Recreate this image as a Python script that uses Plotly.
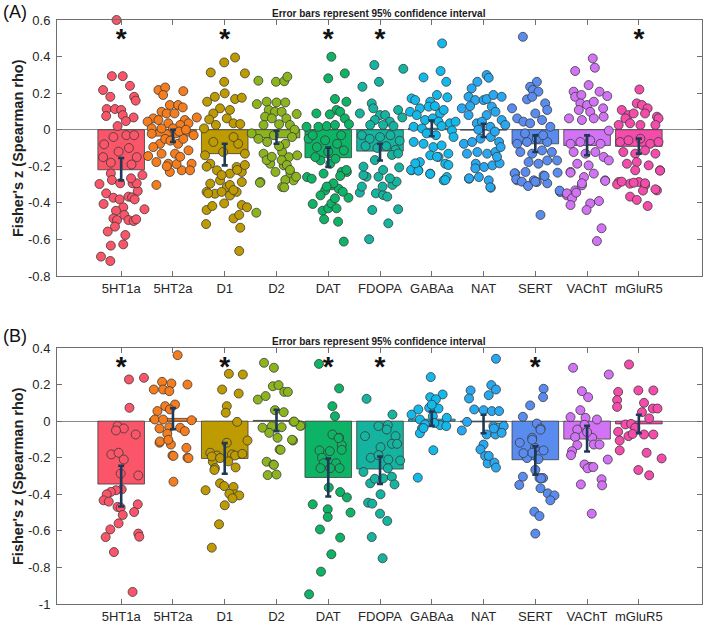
import plotly.graph_objects as go

categories = ["5HT1a", "5HT2a", "D1", "D2", "DAT", "FDOPA", "GABAa", "NAT", "SERT", "VAChT", "mGluR5"]
colors = ["#FA5569", "#F57D1E", "#BE9B00", "#8CB41E", "#0DB466", "#14B4A0",
          "#14B9EB", "#28A8F0", "#5A8CF0", "#D273F5", "#F54BAA"]

# Panel A: bar means and 95% CI bounds
a_means = [-0.219, -0.035, -0.131, -0.044, -0.153, -0.117, 0.008, -0.002, -0.077, -0.086, -0.091]
a_ci_low = [-0.277, -0.067, -0.195, -0.077, -0.204, -0.168, -0.036, -0.04, -0.122, -0.14, -0.131]
a_ci_high = [-0.155, 0.0, -0.077, -0.007, -0.098, -0.077, 0.05, 0.033, -0.031, -0.031, -0.049]
a_sig = ["5HT1a", "D1", "DAT", "FDOPA", "mGluR5"]

# Panel B: bar means and 95% CI bounds
b_means = [-0.344, 0.015, -0.204, 0.004, -0.308, -0.262, 0.011, -0.004, -0.211, -0.098, -0.015]
b_ci_low = [-0.467, -0.044, -0.288, -0.055, -0.412, -0.343, -0.026, -0.066, -0.293, -0.166, -0.066]
b_ci_high = [-0.244, 0.071, -0.12, 0.062, -0.204, -0.193, 0.053, 0.035, -0.138, -0.026, 0.035]
b_sig = ["5HT1a", "D1", "DAT", "FDOPA", "SERT"]

a_ytickvals = [-0.8, -0.6, -0.4, -0.2, 0, 0.2, 0.4, 0.6]
a_yticktext = ["-0.8", "-0.6", "-0.4", "-0.2", "0", "0.2", "0.4", "0.6"]
b_ytickvals = [-1, -0.8, -0.6, -0.4, -0.2, 0, 0.2, 0.4]
b_yticktext = ["-1", "-0.8", "-0.6", "-0.4", "-0.2", "0", "0.2", "0.4"]

# Individual points (jitter offset, Fisher's z) per category, panel A
a_5ht1a = [(-0.09, 0.6), (-0.18, 0.293), (0.03, 0.293), (-0.35, 0.217), (0.17, 0.24), (-0.21, 0.18), (0.25, 0.18),
           (0.28, 0.159), (-0.28, 0.113), (-0.12, 0.113), (0.0, 0.108), (-0.29, 0.075), (0.03, 0.08), (0.24, 0.067),
           (-0.07, 0.02), (0.09, 0.047), (-0.15, -0.04), (0.1, -0.03), (0.25, -0.03), (-0.33, -0.08), (-0.05, -0.12),
           (0.3, -0.15), (-0.35, -0.15), (0.15, -0.1), (-0.2, -0.18), (0.2, -0.19), (-0.42, -0.297), (-0.2, -0.239),
           (-0.18, -0.275), (-0.34, -0.406), (-0.29, -0.348), (-0.15, -0.372), (-0.03, -0.381), (0.04, -0.424),
           (-0.1, -0.443), (-0.15, -0.485), (-0.08, -0.494), (0.06, -0.466), (0.14, -0.494), (0.24, -0.499),
           (0.29, -0.49), (0.14, -0.366), (0.21, -0.37), (0.32, -0.335), (0.45, -0.435), (0.22, -0.293), (0.3, -0.293),
           (0.41, -0.248), (-0.02, -0.293), (-0.12, -0.53), (-0.26, -0.557), (-0.2, -0.634), (-0.39, -0.694),
           (-0.21, -0.718), (0.04, -0.627), (0.08, -0.576), (0.26, -0.381), (0.19, -0.266)]
a_5ht2a = [(-0.28, 0.217), (-0.15, 0.231), (-0.19, 0.19), (0.2, 0.211), (-0.06, 0.135), (0.1, 0.135), (0.19, 0.122),
           (-0.22, 0.098), (-0.12, 0.089), (0.03, 0.089), (-0.38, 0.062), (-0.28, 0.053), (0.23, 0.053), (0.3, 0.035),
           (0.46, 0.067), (-0.49, 0.044), (-0.09, 0.035), (0.14, 0.026), (-0.41, 0.007), (-0.22, 0.007), (0.0, 0.007),
           (-0.48, -0.144), (-0.25, -0.077), (-0.15, -0.05), (0.1, -0.077), (0.2, -0.05), (0.3, -0.113),
           (0.36, -0.186), (-0.09, -0.186), (-0.22, -0.131), (0.04, -0.131), (-0.32, -0.177), (0.17, -0.222),
           (0.33, -0.222), (-0.06, -0.231), (-0.41, -0.022), (-0.38, -0.095), (0.05, -0.02), (-0.05, -0.06),
           (0.12, -0.01), (0.25, 0.0), (0.4, -0.03), (-0.32, -0.302), (0.07, -0.188), (0.14, -0.148), (-0.12, -0.2)]
a_d1 = [(0.2, 0.395), (-0.01, 0.368), (-0.27, 0.313), (0.39, 0.308), (-0.01, 0.262), (0.0, 0.199), (-0.19, 0.18),
        (-0.34, 0.153), (0.2, 0.168), (0.33, 0.175), (-0.09, 0.117), (0.1, 0.108), (-0.22, 0.089), (0.04, 0.062),
        (-0.3, 0.056), (0.17, 0.035), (0.3, 0.031), (-0.17, 0.026), (-0.4, 0.007), (-0.38, -0.14), (-0.28, -0.186),
        (-0.15, -0.222), (0.1, -0.24), (0.23, -0.204), (0.33, -0.231), (0.39, -0.131), (-0.03, -0.122),
        (0.26, -0.077), (-0.22, -0.067), (0.17, -0.04), (-0.09, -0.277), (0.04, -0.313), (-0.35, -0.34),
        (-0.19, -0.35), (-0.06, -0.34), (0.1, -0.36), (0.23, -0.34), (-0.28, -0.295), (0.33, -0.286),
        (-0.35, -0.439), (-0.36, -0.516), (-0.24, -0.417), (-0.01, -0.403), (0.17, -0.485), (0.28, -0.466),
        (0.3, -0.536), (0.28, -0.663), (0.33, -0.412), (0.43, -0.424), (-0.32, -0.348), (0.1, -0.302),
        (0.17, -0.33), (-0.35, -0.202), (0.24, -0.22), (0.39, -0.193), (-0.06, -0.248)]
a_d2 = [(-0.35, 0.268), (-0.01, 0.262), (0.15, 0.265), (0.21, 0.29), (-0.19, 0.153), (0.0, 0.149), (0.17, 0.149),
        (-0.38, 0.14), (-0.15, 0.108), (-0.03, 0.098), (0.1, 0.098), (0.39, 0.086), (-0.22, 0.071), (-0.09, 0.062),
        (0.19, 0.062), (-0.25, 0.026), (0.26, 0.026), (-0.48, -0.02), (0.05, 0.03), (0.35, 0.0),
        (-0.25, -0.131), (-0.12, -0.186), (0.11, -0.122), (0.24, -0.15), (0.4, -0.14), (0.14, -0.195),
        (-0.02, -0.231), (0.27, -0.24), (-0.18, -0.067), (0.17, -0.077), (-0.31, -0.286), (0.11, -0.313),
        (0.33, -0.277), (-0.05, -0.03), (0.3, -0.04), (-0.35, -0.05), (0.05, -0.09), (-0.32, -0.29),
        (-0.19, -0.166), (-0.09, -0.148), (0.1, -0.166), (0.2, -0.193), (0.26, -0.22), (0.38, -0.257),
        (0.17, -0.275), (0.15, -0.315), (-0.39, -0.454)]
a_dat = [(0.06, 0.399), (0.0, 0.281), (0.32, 0.308), (0.13, 0.168), (0.35, 0.153), (0.16, 0.108), (0.23, 0.098),
         (0.03, 0.084), (0.32, 0.062), (-0.23, 0.089), (-0.42, 0.016), (-0.19, 0.016), (-0.03, 0.02), (0.13, 0.026),
         (0.4, 0.03), (-0.41, -0.259), (-0.32, -0.268), (-0.09, -0.24), (0.04, -0.186), (0.26, -0.231),
         (0.36, -0.231), (-0.15, -0.168), (0.14, -0.159), (0.3, -0.113), (-0.22, -0.095), (-0.06, -0.058),
         (0.17, -0.077), (-0.38, -0.049), (0.07, -0.304), (0.2, -0.323), (-0.06, -0.332), (-0.15, -0.359),
         (-0.3, -0.03), (0.25, -0.03), (0.0, -0.12), (-0.25, -0.15), (-0.3, -0.406), (-0.11, -0.443),
         (-0.08, -0.49), (0.0, -0.43), (0.06, -0.403), (0.13, -0.375), (0.16, -0.43), (0.19, -0.503),
         (0.3, -0.612), (0.39, -0.372), (0.28, -0.339), (0.35, -0.22), (0.1, -0.293), (-0.03, -0.311), (0.23, -0.253)]
a_fdopa = [(-0.11, 0.354), (0.45, 0.333), (-0.02, 0.262), (-0.34, 0.235), (-0.16, 0.144), (-0.13, 0.117),
           (0.35, 0.108), (0.43, 0.067), (-0.39, 0.089), (0.0, 0.08), (0.1, 0.08), (-0.1, 0.053), (0.19, 0.044),
           (-0.19, 0.026), (0.06, 0.026), (0.26, 0.02), (-0.35, -0.03), (-0.2, -0.05), (0.0, -0.04), (0.2, -0.03),
           (0.38, -0.06), (-0.28, -0.09), (-0.05, -0.1), (0.12, -0.09), (0.3, -0.11), (-0.21, -0.599),
           (0.16, -0.512), (-0.15, -0.439), (0.35, -0.435), (-0.08, -0.348), (0.06, -0.357), (0.14, -0.366),
           (-0.39, -0.344), (-0.35, -0.311), (0.05, -0.311), (0.24, -0.302), (0.32, -0.284), (0.19, -0.266),
           (-0.03, -0.257), (-0.26, -0.257), (-0.32, -0.248), (0.06, -0.22), (0.37, -0.206), (-0.32, -0.202),
           (-0.1, -0.166), (0.23, -0.138), (0.35, -0.13)]
a_gabaa = [(0.2, 0.472), (-0.16, 0.286), (0.17, 0.321), (0.28, 0.262), (-0.39, 0.171), (-0.32, 0.162), (0.1, 0.19),
           (-0.03, 0.153), (0.3, 0.177), (-0.23, 0.117), (-0.06, 0.126), (0.06, 0.129), (0.16, 0.089), (0.23, 0.108),
           (-0.42, 0.098), (-0.29, 0.08), (-0.13, 0.053), (0.02, 0.062), (0.13, 0.044), (0.35, 0.035),
           (0.46, 0.044), (-0.35, 0.016), (-0.19, 0.007), (0.19, 0.02), (-0.35, -0.067), (-0.16, -0.077),
           (0.03, -0.095), (0.19, -0.086), (0.32, -0.131), (-0.03, -0.14), (0.13, -0.149), (-0.23, -0.177),
           (0.26, -0.186), (-0.39, -0.222), (-0.26, -0.222), (-0.03, -0.24), (0.23, -0.277), (0.29, -0.259),
           (0.39, -0.004), (0.42, -0.04), (-0.4, -0.22), (-0.26, -0.224), (-0.03, -0.242), (0.26, -0.275),
           (0.32, -0.193), (0.1, -0.148), (-0.32, -0.184), (0.08, -0.03), (-0.1, -0.02)]
a_nat = [(0.06, 0.299), (0.1, 0.284), (-0.12, 0.262), (-0.23, 0.226), (-0.29, 0.18), (-0.16, 0.162), (0.0, 0.162),
         (0.06, 0.168), (0.19, 0.19), (0.35, 0.18), (-0.42, 0.117), (-0.26, 0.129), (0.16, 0.126), (0.23, 0.098),
         (-0.29, 0.08), (0.06, 0.08), (0.35, 0.053), (-0.13, 0.035), (-0.03, 0.044), (0.13, 0.016), (0.42, 0.026),
         (-0.38, -0.077), (-0.22, -0.067), (-0.06, -0.049), (0.14, -0.04), (0.3, -0.067), (-0.32, -0.131),
         (-0.12, -0.122), (0.07, -0.131), (0.23, -0.122), (-0.15, -0.186), (0.01, -0.204), (0.17, -0.195),
         (-0.28, -0.268), (-0.09, -0.259), (0.1, -0.277), (0.14, -0.317), (0.33, -0.095), (-0.28, -0.266),
         (-0.16, -0.211), (0.13, -0.315), (0.31, -0.184), (0.26, -0.148), (-0.1, 0.0), (0.22, -0.01)]
a_sert = [(-0.24, 0.508), (0.03, 0.262), (-0.1, 0.235), (-0.05, 0.217), (0.06, 0.208), (-0.16, 0.166), (0.19, 0.144),
          (-0.06, 0.18), (0.23, 0.108), (-0.45, 0.117), (0.0, 0.089), (-0.35, 0.062), (-0.23, 0.044), (-0.1, 0.035),
          (0.13, 0.053), (0.29, 0.016), (-0.35, -0.077), (-0.16, -0.067), (0.03, -0.049), (0.23, -0.067),
          (-0.29, -0.122), (-0.06, -0.131), (0.13, -0.113), (0.32, -0.122), (-0.13, -0.177), (0.06, -0.186),
          (0.23, -0.168), (0.42, -0.168), (-0.39, -0.24), (-0.19, -0.231), (-0.03, -0.277), (0.16, -0.25),
          (0.03, -0.286), (-0.35, -0.277), (0.48, -0.341), (-0.4, -0.238), (-0.37, -0.271), (-0.26, -0.284),
          (-0.14, -0.308), (0.0, -0.284), (0.23, -0.293), (0.18, -0.253), (0.43, -0.235), (0.47, -0.333),
          (0.1, -0.466), (-0.2, -0.02), (0.15, -0.03)]
a_vacht = [(0.11, 0.39), (0.15, 0.339), (-0.23, 0.321), (0.03, 0.244), (-0.26, 0.208), (-0.23, 0.18), (-0.11, 0.19),
           (0.24, 0.208), (0.39, 0.184), (-0.13, 0.144), (0.0, 0.135), (0.13, 0.153), (0.31, 0.117), (-0.16, 0.108),
           (0.06, 0.098), (-0.35, 0.062), (-0.1, 0.053), (0.13, 0.062), (0.32, 0.071), (0.42, -0.005),
           (-0.32, -0.077), (-0.13, -0.067), (0.06, -0.058), (0.26, -0.077), (-0.26, -0.122), (-0.03, -0.131),
           (0.16, -0.122), (0.32, -0.149), (-0.19, -0.186), (0.03, -0.195), (0.42, -0.168), (-0.32, -0.231),
           (-0.06, -0.259), (0.13, -0.24), (0.35, -0.277), (-0.23, -0.332), (-0.39, -0.359), (-0.1, -0.304),
           (-0.32, -0.235), (-0.39, -0.348), (-0.29, -0.375), (-0.32, -0.412), (-0.21, -0.344), (-0.1, -0.293),
           (0.06, -0.403), (-0.01, -0.439), (0.23, -0.39), (0.35, -0.28), (0.28, -0.539), (0.19, -0.609)]
a_mglur5 = [(0.01, 0.22), (-0.33, 0.108), (-0.2, 0.08), (-0.26, 0.062), (-0.04, 0.144), (0.06, 0.135), (0.17, 0.117),
            (0.12, 0.089), (-0.1, 0.089), (0.35, 0.071), (0.38, 0.062), (0.32, 0.026), (-0.39, 0.026), (-0.17, 0.035),
            (0.03, 0.026), (-0.36, -0.067), (-0.2, -0.058), (0.03, -0.049), (0.22, -0.077), (0.38, -0.067),
            (-0.3, -0.122), (-0.07, -0.131), (0.12, -0.113), (0.32, -0.131), (-0.23, -0.186), (-0.04, -0.177),
            (0.19, -0.195), (0.41, -0.222), (-0.39, -0.286), (-0.17, -0.295), (0.0, -0.286), (0.12, -0.304),
            (0.35, -0.332), (-0.07, -0.222), (-0.42, -0.299), (-0.33, -0.284), (-0.17, -0.366), (-0.04, -0.384),
            (0.17, -0.417), (0.08, -0.333), (0.32, -0.326), (0.41, -0.224), (-0.1, -0.29), (0.12, -0.293)]

# Individual points, panel B
b_5ht1a = [(0.15, 0.228), (0.44, 0.237), (0.16, 0.073), (-0.07, -0.027), (0.05, -0.04), (-0.1, -0.051), (0.28, -0.073),
           (-0.19, -0.182), (-0.05, -0.173), (0.05, -0.21), (0.33, -0.297), (-0.01, -0.287), (0.01, -0.373),
           (-0.1, -0.378), (-0.2, -0.387), (-0.28, -0.4), (-0.34, -0.433), (-0.24, -0.44), (-0.07, -0.469),
           (-0.01, -0.473), (0.03, -0.513), (-0.05, -0.559), (0.32, -0.455), (0.25, -0.497), (-0.21, -0.592),
           (-0.3, -0.634), (0.33, -0.615), (0.35, -0.632), (-0.14, -0.716), (0.22, -0.934)]
b_5ht2a = [(0.09, 0.361), (-0.21, 0.215), (-0.03, 0.206), (0.28, 0.2), (-0.37, 0.173), (-0.19, 0.173), (-0.07, 0.164),
           (-0.15, 0.082), (0.04, 0.091), (-0.06, 0.064), (-0.3, 0.055), (-0.35, 0.009), (-0.19, 0.009), (0.36, 0.005),
           (-0.26, -0.04), (-0.07, -0.033), (0.14, -0.036), (0.23, -0.055), (-0.11, -0.069), (-0.26, -0.118),
           (-0.04, -0.128), (0.26, -0.146), (-0.01, -0.188), (0.28, -0.2), (-0.25, -0.111), (-0.09, -0.102),
           (0.3, -0.202), (0.01, -0.19), (0.01, -0.331)]
b_d1 = [(0.08, 0.259), (0.35, 0.255), (-0.05, 0.173), (0.27, 0.151), (0.04, 0.082), (0.02, 0.046), (0.24, -0.004),
        (0.44, -0.106), (-0.28, -0.173), (-0.15, -0.188), (0.04, -0.118), (0.14, -0.182), (0.2, -0.188),
        (0.34, -0.179), (-0.23, -0.222), (-0.25, -0.193), (-0.09, -0.202), (0.07, -0.22), (0.21, -0.253),
        (-0.19, -0.257), (-0.37, -0.378), (-0.2, -0.267), (-0.09, -0.34), (-0.01, -0.355), (0.17, -0.36),
        (0.19, -0.4), (0.09, -0.397), (0.28, -0.406), (0.15, -0.422), (0.0, -0.46), (-0.11, -0.564), (-0.25, -0.692)]
b_d2 = [(-0.24, 0.319), (-0.05, 0.292), (-0.36, 0.118), (-0.21, 0.137), (-0.07, 0.191), (0.04, 0.197), (0.15, 0.16),
        (0.22, 0.16), (-0.03, 0.06), (0.14, 0.049), (0.33, -0.004), (0.48, -0.024), (-0.27, -0.036),
        (-0.09, -0.027), (0.1, -0.033), (-0.14, -0.064), (0.02, -0.091), (0.32, -0.106), (0.06, -0.155),
        (-0.19, -0.222), (-0.06, -0.237), (-0.05, -0.239), (-0.17, -0.295), (0.0, -0.292), (0.3, -0.102),
        (0.08, -0.157), (0.46, -0.026), (0.34, -0.002)]
b_dat = [(-0.18, 0.313), (0.21, 0.179), (0.08, 0.082), (0.13, 0.027), (0.08, -0.073), (0.21, -0.091), (0.26, -0.131),
         (-0.17, -0.16), (0.03, -0.164), (-0.12, -0.2), (0.2, -0.093), (0.26, -0.157), (-0.09, -0.23), (0.15, -0.23),
         (0.22, -0.257), (0.04, -0.257), (-0.15, -0.257), (0.01, -0.363), (0.23, -0.388), (0.36, -0.417),
         (-0.3, -0.455), (-0.01, -0.482), (-0.01, -0.524), (0.43, -0.5), (-0.16, -0.592), (0.23, -0.637),
         (0.06, -0.728), (-0.14, -0.823), (-0.37, -0.947)]
b_fdopa = [(-0.26, 0.122), (0.24, 0.036), (0.15, -0.022), (-0.03, -0.027), (0.13, -0.046), (-0.29, -0.082),
           (0.3, -0.082), (0.23, -0.124), (0.33, -0.124), (0.01, -0.142), (-0.18, -0.2), (-0.03, -0.186),
           (0.16, -0.21), (0.39, -0.215), (-0.32, -0.278), (-0.19, -0.34), (-0.1, -0.315), (0.06, -0.313),
           (0.23, -0.304), (0.28, -0.346), (0.15, -0.258), (0.01, -0.4), (-0.23, -0.446), (-0.15, -0.451),
           (0.0, -0.506), (0.14, -0.546), (-0.16, -0.634), (0.05, -0.75)]
b_gabaa = [(-0.02, 0.241), (0.21, 0.146), (-0.03, 0.131), (0.08, 0.12), (-0.39, 0.036), (-0.26, 0.064), (-0.05, 0.073),
           (0.06, 0.069), (0.13, 0.069), (0.02, 0.027), (0.29, 0.018), (-0.23, 0.009), (-0.13, -0.018),
           (0.16, -0.022), (0.28, -0.027), (-0.19, -0.04), (0.03, -0.159), (-0.27, -0.309), (-0.23, -0.066),
           (-0.16, -0.038), (0.0, 0.09), (0.05, -0.01)]
b_nat = [(0.24, 0.341), (-0.25, 0.168), (-0.28, 0.124), (0.15, 0.197), (0.24, 0.173), (0.1, 0.142), (-0.18, 0.064),
         (0.0, 0.06), (0.16, 0.055), (0.3, 0.055), (-0.32, -0.004), (-0.42, -0.051), (0.19, -0.027), (0.29, -0.036),
         (0.39, -0.027), (0.06, -0.073), (0.23, -0.073), (0.35, -0.064), (0.0, -0.128), (-0.06, -0.155),
         (0.03, -0.191), (0.08, -0.231), (0.21, -0.227), (0.24, -0.254), (0.1, -0.19), (0.2, -0.04)]
b_sert = [(0.16, 0.177), (0.15, 0.131), (-0.1, 0.086), (-0.24, 0.024), (0.03, -0.013), (0.1, -0.04), (-0.06, -0.091),
          (-0.3, -0.118), (-0.01, -0.146), (-0.06, -0.102), (0.1, -0.047), (0.16, -0.16), (-0.16, -0.202),
          (-0.06, -0.173), (0.06, -0.208), (-0.23, -0.175), (0.0, -0.266), (0.08, -0.311), (0.15, -0.311),
          (-0.24, -0.304), (-0.31, -0.349), (0.11, -0.313), (0.1, -0.367), (0.24, -0.395), (0.37, -0.406),
          (0.29, -0.433), (-0.02, -0.495), (0.08, -0.519), (0.0, -0.615)]
b_vacht = [(-0.27, 0.292), (0.42, 0.255), (-0.1, 0.164), (0.02, 0.131), (-0.13, 0.06), (-0.32, 0.022),
           (-0.03, 0.018), (0.19, 0.009), (-0.19, -0.046), (-0.23, -0.087), (0.1, -0.091), (-0.19, -0.131),
           (0.13, -0.128), (0.24, -0.128), (-0.29, -0.164), (-0.31, -0.186), (0.4, -0.21), (-0.05, -0.237),
           (0.06, -0.25), (0.01, -0.258), (0.12, -0.251), (-0.12, -0.346), (0.28, -0.318), (0.29, -0.351),
           (0.09, -0.506), (-0.05, -0.02), (0.0, -0.06)]
b_mglur5 = [(-0.19, 0.31), (0.28, 0.168), (-0.01, 0.168), (-0.4, 0.16), (-0.42, 0.115), (-0.42, 0.078), (0.1, 0.1),
            (0.27, 0.069), (0.36, 0.069), (0.06, 0.049), (0.2, 0.015), (-0.26, -0.018), (-0.15, -0.015),
            (-0.07, -0.036), (-0.2, -0.082), (-0.4, -0.058), (-0.37, -0.106), (0.1, -0.073), (0.28, -0.073),
            (0.44, -0.204), (0.15, -0.173), (-0.37, -0.16), (-0.01, -0.267), (0.2, -0.296), (-0.12, -0.07)]

a_points = [a_5ht1a, a_5ht2a, a_d1, a_d2, a_dat, a_fdopa, a_gabaa, a_nat, a_sert, a_vacht, a_mglur5]
b_points = [b_5ht1a, b_5ht2a, b_d1, b_d2, b_dat, b_fdopa, b_gabaa, b_nat, b_sert, b_vacht, b_mglur5]

FONT = "Liberation Sans, Arial, sans-serif"
AXIS_GRAY = "#6e6e6e"
ERR_COLOR = "#1E3856"

fig = go.Figure()
idx = list(range(len(categories)))


def add_panel(means, lo, hi, points, sig, star_y, xa, ya):
    fig.add_trace(go.Bar(
        x=idx, y=means, width=0.9, xaxis=xa, yaxis=ya,
        marker=dict(color=colors, line=dict(color="#3c3c3c", width=0.8)),
        showlegend=False, hoverinfo="skip"))
    for i, pts in enumerate(points):
        fig.add_trace(go.Scatter(
            x=[i + p[0] for p in pts], y=[p[1] for p in pts], mode="markers",
            xaxis=xa, yaxis=ya, cliponaxis=False,
            marker=dict(size=9, color=colors[i], line=dict(color="#3a3a3a", width=0.8)),
            showlegend=False, hoverinfo="skip"))
    fig.add_trace(go.Scatter(
        x=idx, y=means, mode="markers", xaxis=xa, yaxis=ya,
        marker=dict(size=1, color="rgba(0,0,0,0)"),
        error_y=dict(type="data", symmetric=False,
                     array=[h - m for h, m in zip(hi, means)],
                     arrayminus=[m - l for m, l in zip(means, lo)],
                     color=ERR_COLOR, thickness=2.6, width=3),
        showlegend=False, hoverinfo="skip"))
    fig.add_trace(go.Scatter(
        x=[categories.index(c) for c in sig], y=[star_y] * len(sig), mode="text",
        text=["*"] * len(sig), textposition="middle center", xaxis=xa, yaxis=ya,
        cliponaxis=False,
        textfont=dict(size=28, color="#111111", family=FONT, weight="bold"),
        showlegend=False, hoverinfo="skip"))


add_panel(a_means, a_ci_low, a_ci_high, a_points, a_sig, 0.485, "x", "y")
add_panel(b_means, b_ci_low, b_ci_high, b_points, b_sig, 0.285, "x2", "y2")

W, H = 709, 627
xdom = [57 / W, 702 / W]
ydomA = [1 - 276 / H, 1 - 20 / H]
ydomB = [1 - 604 / H, 1 - 348 / H]

xcommon = dict(domain=xdom, range=[-1.24, 11.22], tickvals=idx, ticktext=categories,
               showline=True, linecolor=AXIS_GRAY, linewidth=1, mirror="ticks", automargin=False,
               ticks="inside", ticklen=5, tickcolor=AXIS_GRAY, showgrid=False, zeroline=False,
               tickfont=dict(family=FONT, size=13, color="#262626"))


def ycommon(dom, rng, tv, tt):
    return dict(domain=dom, range=rng, tickvals=tv, ticktext=tt, automargin=False,
                showline=True, linecolor=AXIS_GRAY, linewidth=1, mirror="ticks",
                ticks="inside", ticklen=5, tickcolor=AXIS_GRAY, showgrid=False,
                zeroline=True, zerolinecolor="#8a8a8a", zerolinewidth=1,
                tickfont=dict(family=FONT, size=13, color="#262626"), ticklabelstandoff=3)


fig.update_layout(
    width=W, height=H, margin=dict(l=0, r=0, t=0, b=0),
    paper_bgcolor="white", plot_bgcolor="white", barmode="overlay",
    xaxis=dict(xcommon, anchor="y"),
    yaxis=ycommon(ydomA, [-0.8, 0.6], a_ytickvals, a_yticktext),
    xaxis2=dict(xcommon, anchor="y2"),
    yaxis2=ycommon(ydomB, [-1, 0.4], b_ytickvals, b_yticktext),
)
fig.update_layout(yaxis=dict(anchor="x"), yaxis2=dict(anchor="x2"))

ann = []
for label, yc_px, ymid_px, ttl_px in [("(A)", 12, 148, 14), ("(B)", 336, 476, 341.5)]:
    ann.append(dict(text=label, x=1 / W, y=1 - yc_px / H, xref="paper", yref="paper",
                    xanchor="left", yanchor="middle", showarrow=False,
                    font=dict(family=FONT, size=18, color="#111111")))
    ann.append(dict(text="<b>Fisher's z (Spearman rho)</b>", x=18 / W, y=1 - ymid_px / H,
                    xref="paper", yref="paper", xanchor="center", yanchor="middle",
                    textangle=-90, showarrow=False,
                    font=dict(family=FONT, size=14.5, color="#222222")))
    ann.append(dict(text="<b>Error bars represent 95% confidence interval</b>", x=379.5 / W,
                    y=1 - ttl_px / H, xref="paper", yref="paper", xanchor="center",
                    yanchor="middle", showarrow=False,
                    font=dict(family=FONT, size=10, color="#1a1a1a")))
fig.update_layout(annotations=ann)

fig.write_html("out.html", config={"displayModeBar": False},
               post_script="document.body.style.margin='0';document.body.style.overflow='hidden';")
